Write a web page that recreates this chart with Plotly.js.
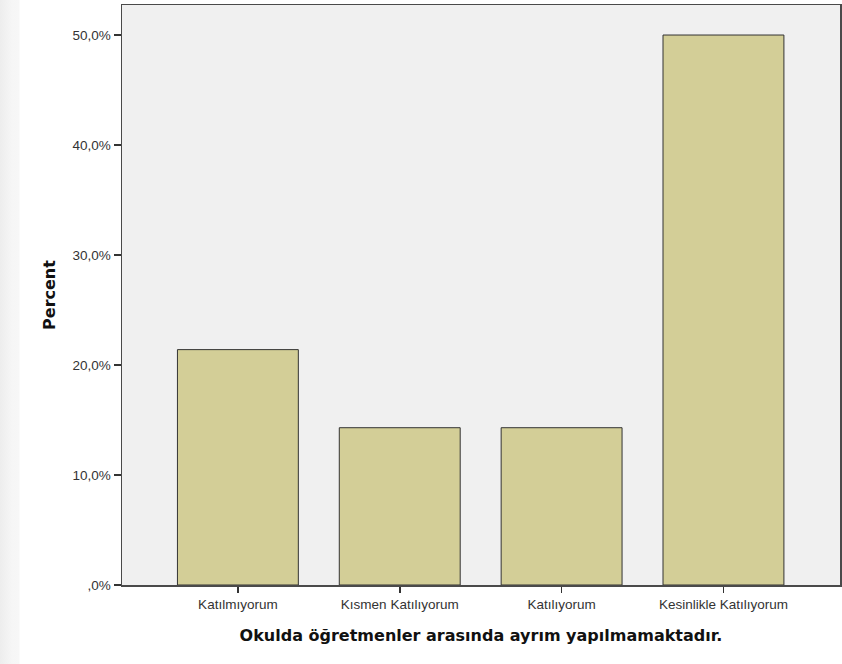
<!DOCTYPE html>
<html>
<head>
<meta charset="utf-8">
<script src="https://cdn.plot.ly/plotly-3.0.1.min.js"></script>
<style>
html, body { margin: 0; padding: 0; }
body { width: 842px; height: 664px; background: linear-gradient(to right, #ededed 0px, #f6f6f6 12px, #f7f7f7 19px, #ffffff 20px); }
#chart { width: 842px; height: 664px; }
</style>
</head>
<body>
<div id="chart"></div>
<script>
const categories = ["Katılmıyorum", "Kısmen Katılıyorum", "Katılıyorum", "Kesinlikle Katılıyorum"];
const percents = [21.4, 14.3, 14.3, 50.0];
const yTickValues = [0, 10, 20, 30, 40, 50];
const yTickLabels = [",0%", "10,0%", "20,0%", "30,0%", "40,0%", "50,0%"];
const xTitle = "Okulda öğretmenler arasında ayrım yapılmamaktadır.";
const yTitle = "Percent";

const trace = {
  type: "bar",
  x: [0, 1, 2, 3],
  y: percents,
  width: 0.747,
  marker: { color: "#d3ce97", line: { color: "#333333", width: 1 } },
  hoverinfo: "none"
};

const layout = {
  width: 842,
  height: 664,
  margin: { l: 122, r: 2, t: 5, b: 79 },
  paper_bgcolor: "rgba(0,0,0,0)",
  plot_bgcolor: "#f0f0f0",
  showlegend: false,
  bargap: 0,
  xaxis: {
    range: [-0.716, 3.72],
    tickvals: [0, 1, 2, 3],
    ticktext: categories,
    ticks: "outside",
    ticklen: 6,
    tickwidth: 1.5,
    tickcolor: "#333333",
    showline: true,
    mirror: true,
    linecolor: "#4a4a4a",
    linewidth: 1.5,
    showgrid: false,
    zeroline: false,
    tickfont: { family: "Liberation Sans, Arial, sans-serif", size: 13.5, color: "#333333" },
    title: { text: xTitle, font: { family: "DejaVu Sans, Verdana, sans-serif", size: 16, color: "#111111", weight: "bold" }, standoff: 19 },
    fixedrange: true
  },
  yaxis: {
    range: [0, 52.73],
    tickvals: yTickValues,
    ticktext: yTickLabels,
    ticks: "outside",
    ticklen: 7,
    tickwidth: 1.5,
    tickcolor: "#333333",
    showline: true,
    mirror: true,
    linecolor: "#4a4a4a",
    linewidth: 1.5,
    showgrid: false,
    zeroline: false,
    tickfont: { family: "Liberation Sans, Arial, sans-serif", size: 13.5, color: "#333333" },
    title: { text: yTitle, font: { family: "DejaVu Sans, Verdana, sans-serif", size: 16, color: "#111111", weight: "bold" }, standoff: 13 },
    fixedrange: true
  }
};

Plotly.newPlot("chart", [trace], layout, { displayModeBar: false, staticPlot: true });
</script>
</body>
</html>
